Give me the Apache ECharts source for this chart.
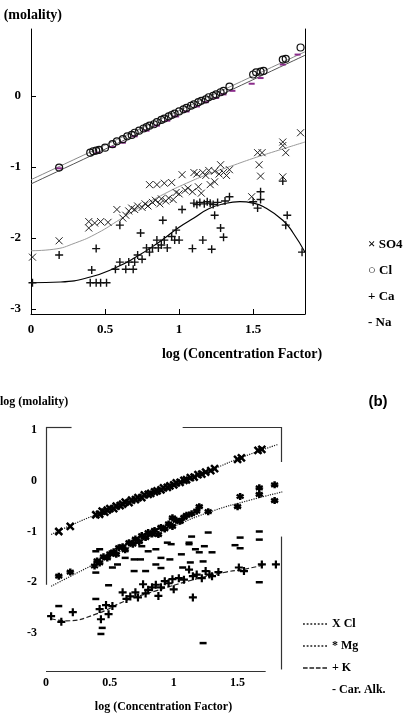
<!DOCTYPE html>
<html lang="en">

<head>
    <meta charset="UTF-8">
    <title>log molality vs log concentration factor</title>
    <style>
        body { margin: 0; background: #fff; }
    </style>
</head>

<body onload="setup()">

    <div id="Chart" style="width: 404px; height: 716px;"></div>
    <script src="https://cdn.jsdelivr.net/npm/echarts@6/dist/echarts.min.js"></script>
    <script>

        // ---- panel (a) ----
        var so4Points = [[0.01, -2.27], [0.19, -2.04], [0.39, -1.86], [0.39, -1.77], [0.43, -1.79], [0.47, -1.77], [0.52, -1.78],
            [0.58, -1.6], [0.62, -1.72], [0.64, -1.68], [0.66, -1.62], [0.68, -1.58], [0.70, -1.6], [0.72, -1.55], [0.75, -1.57],
            [0.77, -1.52], [0.79, -1.55], [0.8, -1.25], [0.82, -1.5], [0.84, -1.47], [0.85, -1.25], [0.87, -1.52], [0.88, -1.45],
            [0.9, -1.23], [0.91, -1.48], [0.93, -1.44], [0.95, -1.22], [0.96, -1.46], [0.98, -1.36], [1.0, -1.38], [1.02, -1.11],
            [1.04, -1.33], [1.06, -1.3], [1.09, -1.35], [1.1, -1.08], [1.12, -1.1], [1.13, -1.28], [1.15, -1.37], [1.16, -1.08],
            [1.18, -1.12], [1.2, -1.05], [1.21, -1.25], [1.24, -1.06], [1.24, -1.21], [1.27, -1.1], [1.28, -0.97], [1.3, -1.08],
            [1.32, -1.12], [1.34, -1.04], [1.49, -1.42], [1.53, -0.8], [1.54, -0.97], [1.56, -0.8], [1.55, -1.13], [1.70, -0.65],
            [1.70, -0.7], [1.72, -0.8], [1.70, -1.14], [1.82, -0.52]]
        var clPoints = [[0.19, -1.01], [0.40, -0.80], [0.42, -0.78], [0.44, -0.77], [0.46, -0.76], [0.50, -0.73], [0.55, -0.68],
            [0.58, -0.64], [0.62, -0.61], [0.65, -0.57], [0.68, -0.55], [0.70, -0.52], [0.73, -0.49], [0.76, -0.46], [0.78, -0.44],
            [0.80, -0.42], [0.83, -0.40], [0.85, -0.37], [0.88, -0.34], [0.90, -0.32], [0.93, -0.29], [0.95, -0.27], [0.97, -0.25],
            [1.00, -0.22], [1.03, -0.19], [1.05, -0.17], [1.08, -0.14], [1.10, -0.12], [1.13, -0.09], [1.15, -0.07], [1.18, -0.05],
            [1.20, -0.02], [1.23, 0.0], [1.25, 0.02], [1.28, 0.05], [1.30, 0.07], [1.34, 0.13], [1.50, 0.30], [1.52, 0.33],
            [1.55, 0.34], [1.57, 0.35], [1.70, 0.51], [1.72, 0.52], [1.82, 0.68]]
        var caPoints = [[0.01, -2.63], [0.19, -2.24], [0.41, -2.45], [0.44, -2.15], [0.40, -2.63], [0.44, -2.63], [0.47, -2.63],
            [0.51, -2.63], [0.57, -2.44], [0.60, -2.34], [0.60, -1.82], [0.64, -2.44], [0.66, -2.34], [0.69, -2.44], [0.70, -2.34],
            [0.72, -2.24], [0.74, -1.93], [0.75, -2.3], [0.78, -2.14], [0.80, -2.2], [0.82, -2.14], [0.85, -2.03], [0.86, -2.14],
            [0.88, -2.1], [0.89, -1.75], [0.9, -2.03], [0.92, -2.14], [0.95, -1.98], [0.97, -2.03], [0.98, -1.89], [1.0, -2.03],
            [1.02, -1.6], [1.09, -2.15], [1.1, -1.51], [1.12, -1.53], [1.14, -1.5], [1.16, -2.03], [1.17, -1.52], [1.19, -1.49],
            [1.21, -1.51], [1.22, -2.16], [1.23, -1.53], [1.24, -1.68], [1.26, -1.5], [1.28, -1.86], [1.3, -1.99], [1.31, -1.48],
            [1.34, -1.42], [1.5, -1.49], [1.53, -1.58], [1.55, -1.35], [1.55, -1.46], [1.70, -1.2], [1.73, -1.68], [1.72, -1.82],
            [1.83, -2.2]]
        var naPoints = [[0.19, -1.02], [0.45, -0.80], [0.55, -0.72], [0.62, -0.66], [0.70, -0.57], [0.78, -0.49], [0.85, -0.42],
            [0.92, -0.35], [0.98, -0.29], [1.05, -0.22], [1.12, -0.15], [1.18, -0.09], [1.25, -0.03], [1.30, 0.02], [1.36, 0.07],
            [1.49, 0.17], [1.55, 0.25], [1.70, 0.44], [1.80, 0.58]]
        var clFit = [[0, -1.18], [1.85, 0.62]]
        var naFit = [[0, -1.24], [1.85, 0.57]]
        var so4Fit = [[0, -2.18], [0.15, -2.16], [0.3, -2.07], [0.45, -1.93], [0.6, -1.74], [0.75, -1.55], [0.9, -1.38],
            [1.05, -1.23], [1.2, -1.1], [1.35, -0.99], [1.5, -0.88], [1.65, -0.78], [1.85, -0.65]]
        var caFit = [[0, -2.63], [0.2, -2.62], [0.4, -2.55], [0.57, -2.42], [0.7, -2.28], [0.85, -2.08], [1.0, -1.85],
            [1.1, -1.72], [1.2, -1.59], [1.3, -1.52], [1.41, -1.49], [1.5, -1.51], [1.57, -1.56], [1.7, -1.75], [1.77, -1.93],
            [1.85, -2.2]]
        var topXTicks = [0, 0.5, 1, 1.5]
        var topYTicks = [-3, -2, -1, 0]

        // ---- panel (b) ----
        var bClPoints = [[0.10, -1.0], [0.19, -0.9], [0.39, -0.67], [0.42, -0.66], [0.44, -0.6], [0.46, -0.62], [0.48, -0.58],
            [0.5, -0.55], [0.53, -0.55], [0.55, -0.5], [0.58, -0.49], [0.6, -0.46], [0.62, -0.42], [0.65, -0.43], [0.67, -0.38],
            [0.7, -0.37], [0.72, -0.33], [0.75, -0.33], [0.77, -0.28], [0.8, -0.27], [0.82, -0.25], [0.85, -0.22], [0.87, -0.2],
            [0.9, -0.18], [0.92, -0.14], [0.95, -0.13], [0.97, -0.1], [1.0, -0.08], [1.02, -0.04], [1.05, -0.03], [1.08, 0.01],
            [1.1, 0.02], [1.13, 0.06], [1.16, 0.07], [1.19, 0.12], [1.22, 0.13], [1.25, 0.17], [1.29, 0.2], [1.32, 0.24],
            [1.5, 0.42], [1.53, 0.45], [1.66, 0.6], [1.69, 0.62]]
        var bMgPoints = [[0.10, -1.88], [0.19, -1.8], [0.38, -1.68], [0.4, -1.58], [0.42, -1.62], [0.45, -1.5], [0.48, -1.52],
            [0.5, -1.44], [0.53, -1.4], [0.55, -1.45], [0.57, -1.32], [0.6, -1.3], [0.62, -1.36], [0.65, -1.22], [0.68, -1.25],
            [0.7, -1.15], [0.73, -1.2], [0.75, -1.08], [0.78, -1.12], [0.8, -1.02], [0.83, -1.05], [0.85, -0.98], [0.88, -1.06],
            [0.9, -0.92], [0.93, -0.95], [0.96, -0.85], [0.99, -0.9], [0.99, -0.73], [1.02, -0.78], [1.05, -0.8], [1.08, -0.72],
            [1.1, -0.68], [1.14, -0.65], [1.18, -0.6], [1.2, -0.51], [1.27, -0.61], [1.5, -0.51], [1.52, -0.31], [1.67, -0.14],
            [1.67, -0.27], [1.79, -0.08], [1.79, -0.39]]
        var bKPoints = [[0.04, -2.67], [0.12, -2.78], [0.21, -2.59], [0.42, -2.53], [0.43, -2.73], [0.47, -2.45], [0.49, -2.63],
            [0.52, -2.47], [0.6, -2.2], [0.63, -2.33], [0.66, -2.28], [0.7, -2.2], [0.72, -2.3], [0.76, -2.04], [0.78, -2.22],
            [0.8, -2.15], [0.83, -2.1], [0.86, -2.05], [0.88, -2.27], [0.9, -2.1], [0.93, -1.98], [0.96, -2.02], [0.99, -1.94],
            [1.0, -2.14], [1.04, -1.92], [1.08, -1.95], [1.12, -1.75], [1.15, -1.88], [1.15, -2.3], [1.18, -1.85], [1.22, -1.92],
            [1.25, -1.78], [1.28, -1.85], [1.3, -1.88], [1.35, -1.8], [1.51, -1.71], [1.55, -1.78], [1.69, -1.65], [1.8, -1.65]]
        var bAlkPoints = [[0.1, -2.47], [0.39, -2.33], [0.44, -2.9], [0.43, -3.02], [0.49, -2.06], [0.39, -1.81], [0.42, -1.35],
            [0.39, -1.39], [0.56, -1.65], [0.52, -1.71], [0.62, -1.52], [0.69, -1.55], [0.69, -1.78], [0.74, -1.55], [0.78, -1.78],
            [0.75, -1.29], [0.8, -1.39], [0.86, -1.35], [0.86, -1.65], [0.9, -1.72], [0.9, -1.52], [0.95, -1.22], [0.98, -1.25],
            [0.97, -1.55], [1.06, -1.45], [1.07, -1.71], [1.12, -1.25], [1.12, -1.22], [1.13, -1.61], [1.14, -1.1], [1.17, -1.35],
            [1.2, -1.41], [1.23, -1.59], [1.24, -1.29], [1.27, -1.02], [1.3, -1.41], [1.48, -1.27], [1.52, -1.12], [1.52, -1.33],
            [1.67, -1.0], [1.67, -1.16], [1.67, -2.0], [1.23, -3.2]]
        var bClFit = [[0.04, -1.06], [0.39, -0.67], [0.94, -0.18], [1.34, 0.26], [1.52, 0.45], [1.82, 0.72]]
        var bMgFit = [[0.04, -2.08], [0.39, -1.63], [0.7, -1.25], [1.0, -0.9], [1.3, -0.6], [1.6, -0.38], [1.85, -0.22]]
        var bKFit = [[0.04, -2.72], [0.16, -2.76], [0.39, -2.63], [0.62, -2.37], [0.86, -2.17], [1.17, -1.94], [1.41, -1.8],
            [1.56, -1.74], [1.72, -1.65]]
        var botXTicks = [0, 0.5, 1, 1.5]
        var botYTicks = [-3, -2, -1, 0, 1]
        // frame pieces of panel (b), in data units (the scan only kept parts of the box)
        var botFrame = [
            [[0, 1.06], [0, -2.05]],
            [[0, 1.06], [0.2, 1.06]],
            [[1.07, 1.06], [1.84, 1.06]],
            [[1.84, 1.06], [1.84, 0.37]],
            [[1.84, -1.1], [1.84, -3.72]],
            [[0, -3.75], [1.72, -3.75]]
        ]

        var SERIF = '"Liberation Serif", "DejaVu Serif", serif'
        var X_PATH = 'path://M0,0L10,10M10,0L0,10'
        var PLUS_PATH = 'path://M5,0L5,10M0,5L10,5'
        var STAR_PATH = 'path://M5,0L5,10M0.7,2.5L9.3,7.5M9.3,2.5L0.7,7.5'
        var DOT_ICON = 'path://M0,0h2v2h-2zM4,0h2v2h-2zM8,0h2v2h-2zM12,0h2v2h-2zM16,0h2v2h-2zM20,0h2v2h-2zM24,0h2v2h-2z'
        var DASH_ICON = 'path://M0,0h5v2h-5zM7,0h5v2h-5zM14,0h5v2h-5zM21,0h5v2h-5z'

        var Chart;
        function setup() {
            Chart = echarts.init(document.getElementById('Chart'))
            Chart.setOption(buildOption(), true)
        }

        function scatter(name, data, grid, symbol, size, stroke, width) {
            return {
                name: name, type: 'scatter', xAxisIndex: grid, yAxisIndex: grid == 0 ? 0 : 2,
                data: data, symbol: symbol, symbolSize: size, silent: true,
                itemStyle: { color: 'none', borderColor: stroke, borderWidth: width, opacity: 1 }
            }
        }
        function dashes(name, data, grid, size, color) {
            return {
                name: name, type: 'scatter', xAxisIndex: grid, yAxisIndex: grid == 0 ? 0 : 2,
                data: data, symbol: 'rect', symbolSize: size, silent: true,
                itemStyle: { color: color, opacity: 1 }
            }
        }
        function fit(name, data, grid, color, width, type) {
            return {
                name: name, type: 'line', xAxisIndex: grid, yAxisIndex: grid == 0 ? 0 : 2,
                data: data, smooth: true, showSymbol: false, silent: true, z: 1,
                lineStyle: { color: color, width: width, type: type }
            }
        }

        function buildOption() {
            var labelFont = { fontFamily: SERIF, fontWeight: 'bold', fontSize: 13, color: '#000' }
            var topGlyph = { SO4: '\u00d7 SO4', Cl: '\u25cb Cl', Ca: '+ Ca', Na: '- Na' }
            var botGlyph = { Cl: 'X Cl', Mg: '* Mg', K: '+ K', 'Car. Alk.': '- Car. Alk.' }
            return {
                animation: false,
                backgroundColor: '#fff',
                grid: [
                    { left: 31, top: 29, width: 274, height: 285 },
                    { left: 46, top: 427, width: 235, height: 244 }
                ],
                xAxis: [
                    {
                        gridIndex: 0, type: 'value', min: 0, max: 1.85,
                        name: 'log (Concentration Factor)', nameLocation: 'middle', nameGap: 33,
                        nameTextStyle: { fontFamily: SERIF, fontWeight: 'bold', fontSize: 14, color: '#000', padding: [0, 0, 0, 148] },
                        axisLine: { onZero: false, lineStyle: { color: '#000', width: 1 } },
                        axisTick: { inside: true, length: 5, customValues: topXTicks, lineStyle: { color: '#000' } },
                        axisLabel: Object.assign({ margin: 9, customValues: topXTicks }, labelFont),
                        splitLine: { show: false }
                    },
                    {
                        gridIndex: 1, type: 'value', min: 0, max: 1.84,
                        name: 'log (Concentration Factor)', nameLocation: 'middle', nameGap: 30,
                        nameTextStyle: { fontFamily: SERIF, fontWeight: 'bold', fontSize: 12, color: '#000' },
                        axisLine: { show: false, onZero: false },
                        axisTick: { show: false },
                        axisLabel: Object.assign({ margin: 6, customValues: botXTicks }, labelFont, { fontSize: 12 }),
                        splitLine: { show: false }
                    }
                ],
                yAxis: [
                    {
                        gridIndex: 0, type: 'value', min: -3.07, max: 0.94,
                        axisLine: { show: true, onZero: false, lineStyle: { color: '#000', width: 1 } },
                        axisTick: { show: true, inside: true, length: 5, customValues: topYTicks, lineStyle: { color: '#000' } },
                        axisLabel: Object.assign({ margin: 10, customValues: topYTicks }, labelFont),
                        splitLine: { show: false }
                    },
                    {
                        gridIndex: 0, type: 'value', min: -3.07, max: 0.94, position: 'right',
                        axisLine: { show: true, onZero: false, lineStyle: { color: '#000', width: 1 } },
                        axisTick: { show: false }, axisLabel: { show: false }, splitLine: { show: false }
                    },
                    {
                        gridIndex: 1, type: 'value', min: -3.75, max: 1.06,
                        axisLine: { show: false, onZero: false },
                        axisTick: { show: false },
                        axisLabel: Object.assign({ margin: 9, customValues: botYTicks }, labelFont, { fontSize: 12 }),
                        splitLine: { show: false }
                    }
                ],
                legend: [
                    {
                        data: ['SO4', 'Cl', 'Ca', 'Na'], icon: 'none', orient: 'vertical',
                        left: 357, top: 233, itemWidth: 1, itemHeight: 14, itemGap: 12,
                        selectedMode: false,
                        formatter: function (name) { return topGlyph[name] },
                        textStyle: { fontFamily: SERIF, fontWeight: 'bold', fontSize: 13, color: '#000', lineHeight: 14 }
                    },
                    {
                        data: [{ name: 'Cl', icon: DOT_ICON }, { name: 'Mg', icon: DOT_ICON },
                        { name: 'K', icon: DASH_ICON }, { name: 'Car. Alk.', icon: 'none' }],
                        orient: 'vertical', left: 298, top: 612, itemWidth: 24, itemHeight: 2, itemGap: 8,
                        selectedMode: false,
                        itemStyle: { color: '#555', borderWidth: 0 },
                        formatter: function (name) { return botGlyph[name] },
                        textStyle: { fontFamily: SERIF, fontWeight: 'bold', fontSize: 12, color: '#000', lineHeight: 14 }
                    }
                ],
                graphic: [
                    {
                        type: 'text', x: 62, y: 15,
                        style: { text: 'log (molality)', align: 'right', verticalAlign: 'middle', fill: '#000', font: 'bold 14px ' + SERIF }
                    },
                    {
                        type: 'text', x: 0, y: 402,
                        style: { text: 'log (molality)', align: 'left', verticalAlign: 'middle', fill: '#000', font: 'bold 12px ' + SERIF }
                    },
                    {
                        type: 'text', x: 378, y: 402,
                        style: { text: '(b)', align: 'center', verticalAlign: 'middle', fill: '#000', font: 'bold 15px Arial, "Liberation Sans", sans-serif' }
                    }
                ],
                series: [
                    fit('Cl fit', clFit, 0, '#8a8a8a', 1, 'solid'),
                    fit('Na fit', naFit, 0, '#555', 1, 'solid'),
                    fit('SO4 fit', so4Fit, 0, '#9a9a9a', 1, 'solid'),
                    fit('Ca fit', caFit, 0, '#000', 1.2, 'solid'),
                    dashes('Na', naPoints, 0, [6, 2], '#8b2c8b'),
                    scatter('Cl', clPoints, 0, 'circle', 7, '#111', 1.2),
                    scatter('SO4', so4Points, 0, X_PATH, 7, '#222', 1),
                    scatter('Ca', caPoints, 0, PLUS_PATH, 8, '#111', 1.4),

                    fit('Cl fit b', bClFit, 1, '#222', 1.2, 'dotted'),
                    fit('Mg fit b', bMgFit, 1, '#222', 1.2, 'dotted'),
                    fit('K fit b', bKFit, 1, '#222', 1.2, 'dashed'),
                    scatter('Cl', bClPoints, 1, X_PATH, 7, '#000', 2.5),
                    scatter('Mg', bMgPoints, 1, STAR_PATH, 7, '#000', 2.5),
                    scatter('K', bKPoints, 1, PLUS_PATH, 8, '#000', 2.2),
                    dashes('Car. Alk.', bAlkPoints, 1, [7, 2.5], '#000'),
                    {
                        name: 'frame b', type: 'line', xAxisIndex: 1, yAxisIndex: 2, data: [], silent: true,
                        markLine: {
                            silent: true, symbol: 'none', label: { show: false },
                            lineStyle: { color: '#333', width: 1.2, type: 'solid' },
                            data: botFrame.map(function (seg) {
                                return [{ coord: seg[0] }, { coord: seg[1] }]
                            })
                        }
                    }
                ]
            }
        }
    </script>
</body>

</html>
